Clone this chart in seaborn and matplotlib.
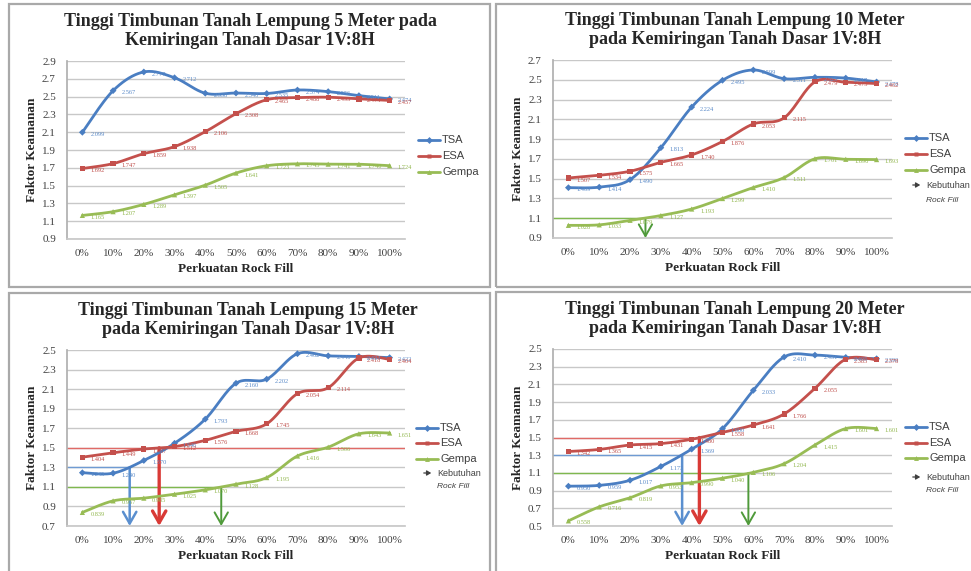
import numpy as np
import pandas as pd
import matplotlib
matplotlib.use("Agg")
import matplotlib.pyplot as plt
import seaborn as sns
from matplotlib.lines import Line2D
from matplotlib.patches import Rectangle, FancyArrowPatch

# ---------------------------------------------------------------- data
perkuatan = [0, 10, 20, 30, 40, 50, 60, 70, 80, 90, 100]
x_labels = ["0%", "10%", "20%", "30%", "40%", "50%", "60%", "70%", "80%", "90%", "100%"]
series_names = ["TSA", "ESA", "Gempa"]

# 5 m embankment
tsa_5 = [2.099, 2.567, 2.777, 2.712, 2.538, 2.540, 2.535, 2.574, 2.556, 2.511, 2.474]
esa_5 = [1.692, 1.747, 1.859, 1.938, 2.106, 2.308, 2.465, 2.488, 2.493, 2.474, 2.457]
gempa_5 = [1.165, 1.207, 1.289, 1.397, 1.505, 1.641, 1.723, 1.745, 1.741, 1.740, 1.724]

# 10 m embankment
tsa_10 = [1.409, 1.414, 1.490, 1.813, 2.224, 2.495, 2.599, 2.511, 2.525, 2.517, 2.478]
esa_10 = [1.507, 1.534, 1.575, 1.665, 1.740, 1.876, 2.053, 2.115, 2.479, 2.475, 2.462]
gempa_10 = [1.028, 1.033, 1.079, 1.127, 1.193, 1.299, 1.410, 1.511, 1.701, 1.696, 1.693]

# 15 m embankment
tsa_15 = [1.245, 1.240, 1.370, 1.546, 1.793, 2.160, 2.202, 2.462, 2.440, 2.434, 2.422]
esa_15 = [1.404, 1.449, 1.487, 1.512, 1.576, 1.668, 1.745, 2.054, 2.114, 2.418, 2.404]
gempa_15 = [0.839, 0.957, 0.985, 1.025, 1.070, 1.128, 1.195, 1.416, 1.506, 1.643, 1.651]

# 20 m embankment
tsa_20 = [0.950, 0.959, 1.017, 1.173, 1.369, 1.600, 2.033, 2.410, 2.431, 2.405, 2.390]
esa_20 = [1.342, 1.365, 1.415, 1.431, 1.480, 1.558, 1.641, 1.766, 2.055, 2.385, 2.378]
gempa_20 = [0.558, 0.716, 0.819, 0.953, 0.990, 1.040, 1.106, 1.204, 1.415, 1.601, 1.601]

# required safety factor and the rock fill percentage where it is reached
syarat_tsa = 1.3
syarat_esa = 1.5
syarat_gempa = 1.1
kebutuhan_10 = {"Gempa": 25.0}
kebutuhan_15 = {"TSA": 15.4, "ESA": 25.0, "Gempa": 45.2}
kebutuhan_20 = {"TSA": 36.9, "ESA": 42.5, "Gempa": 58.4}

titles = [
    "Tinggi Timbunan Tanah Lempung 5 Meter pada\nKemiringan Tanah Dasar 1V:8H",
    "Tinggi Timbunan Tanah Lempung 10 Meter\npada Kemiringan Tanah Dasar 1V:8H",
    "Tinggi Timbunan Tanah Lempung 15 Meter\npada Kemiringan Tanah Dasar 1V:8H",
    "Tinggi Timbunan Tanah Lempung 20 Meter\npada Kemiringan Tanah Dasar 1V:8H",
]

# ---------------------------------------------------------------- style
sns.set_theme(style="white")
plt.rcParams["font.family"] = ["Liberation Serif", "DejaVu Serif"]

W, H = 971, 571
colors = {"TSA": "#4a7ec2", "ESA": "#c4504c", "Gempa": "#98bc55"}
label_colors = {"TSA": "#5b8bc9", "ESA": "#c0504d", "Gempa": "#93b850"}
markers = {"TSA": "D", "ESA": "s", "Gempa": "^"}
marker_sizes = {"TSA": 12, "ESA": 14, "Gempa": 14}
req_line_colors = {"TSA": "#6f9bd3", "ESA": "#e06a66", "Gempa": "#7fb84f"}
arrow_colors = {"TSA": "#5a8fcf", "ESA": "#d93a36", "Gempa": "#4f9a3a"}
arrow_widths = {"TSA": 1.8, "ESA": 2.4, "Gempa": 1.4}
req_values = {"TSA": syarat_tsa, "ESA": syarat_esa, "Gempa": syarat_gempa}
sans = ["Liberation Sans", "DejaVu Sans"]

fig = plt.figure(figsize=(W / 100, H / 100), dpi=100)
fig.patch.set_facecolor("white")


def fig_rect(left, top, right, bottom):
    return [left / W, 1 - bottom / H, (right - left) / W, (bottom - top) / H]


def smooth_curve(xs, ys, n=30):
    """Cubic Bezier smoothing through every point (spreadsheet style)."""
    pts = np.column_stack([xs, ys]).astype(float)
    p = np.vstack([pts[0], pts, pts[-1]])
    t = np.linspace(0, 1, n)[:, None]
    parts = []
    for i in range(1, len(p) - 2):
        p0, p1, p2, p3 = p[i - 1], p[i], p[i + 1], p[i + 2]
        b1 = p1 + (p2 - p0) / 6.0
        b2 = p2 - (p3 - p1) / 6.0
        seg = ((1 - t) ** 3) * p1 + 3 * ((1 - t) ** 2) * t * b1 \
            + 3 * (1 - t) * t ** 2 * b2 + t ** 3 * p2
        parts.append(seg if i == 1 else seg[1:])
    c = np.vstack(parts)
    return c[:, 0], c[:, 1]


panels = [
    dict(data=(tsa_5, esa_5, gempa_5), ylim=(0.9, 2.9), keb=None, full_esa=False,
         box=(9, 4, 490, 287), ax=(67, 61, 405, 239), title_x=250, title_y=31,
         legend=(418, [140, 156, 172])),
    dict(data=(tsa_10, esa_10, gempa_10), ylim=(0.9, 2.7), keb=kebutuhan_10, full_esa=False,
         box=(496, 4, 975, 287), ax=(553, 60, 892, 238), title_x=735, title_y=30,
         legend=(905, [138, 154, 170, 185, 200])),
    dict(data=(tsa_15, esa_15, gempa_15), ylim=(0.7, 2.5), keb=kebutuhan_15, full_esa=True,
         box=(9, 293, 490, 575), ax=(67, 350, 405, 526), title_x=248, title_y=320,
         legend=(416, [428, 443, 459, 473, 487])),
    dict(data=(tsa_20, esa_20, gempa_20), ylim=(0.5, 2.5), keb=kebutuhan_20, full_esa=False,
         box=(496, 292, 975, 575), ax=(553, 349, 892, 526), title_x=735, title_y=319,
         legend=(905, [427, 443, 458, 477, 491])),
]

grid_col = "#c8c8c8"
for k, pnl in enumerate(panels):
    bx0, by0, bx1, by1 = pnl["box"]
    fig.add_artist(Rectangle((bx0 / W, 1 - by1 / H), (bx1 - bx0) / W, (by1 - by0) / H,
                             transform=fig.transFigure, fill=False,
                             edgecolor="#a9a9a9", linewidth=1.6))

    l, t, r, b = pnl["ax"]
    ax = fig.add_axes(fig_rect(l, t, r, b))
    ax.set_facecolor("white")
    y0, y1 = pnl["ylim"]
    yt = np.round(np.arange(y0, y1 + 1e-6, 0.2), 1)

    # requirement lines and arrows
    if pnl["keb"]:
        for name, xk in pnl["keb"].items():
            yv = req_values[name]
            x_end = 105 if (name == "ESA" and pnl["full_esa"]) else xk
            ax.plot([-5, x_end], [yv, yv], color=req_line_colors[name], lw=1.0, zorder=2)
            ax.annotate("", xy=(xk, y0), xytext=(xk, yv),
                        arrowprops=dict(arrowstyle="->,head_length=0.7,head_width=0.4",
                                        color=arrow_colors[name], lw=arrow_widths[name],
                                        shrinkA=0, shrinkB=0),
                        zorder=3)

    frames = []
    for name, vals in zip(series_names, pnl["data"]):
        frames.append(pd.DataFrame({"perkuatan": perkuatan, "fk": vals, "seri": name}))
    df = pd.concat(frames, ignore_index=True)

    for name in series_names:
        d = df[df["seri"] == name]
        sx, sy = smooth_curve(d["perkuatan"].values, d["fk"].values)
        ax.plot(sx, sy, color=colors[name], lw=2.0, zorder=4, solid_capstyle="round")
    sns.scatterplot(data=df, x="perkuatan", y="fk", hue="seri", style="seri",
                    palette=colors, markers=markers, size="seri", sizes=marker_sizes,
                    edgecolor="none", legend=False, ax=ax, zorder=5)
    for name in series_names:
        d = df[df["seri"] == name]
        for xv, yv in zip(d["perkuatan"], d["fk"]):
            ax.annotate(f"{yv:.3f}", (xv, yv), xytext=(6, -1.5), textcoords="offset points",
                        fontsize=4.6, color=label_colors[name], ha="left", va="center",
                        zorder=6)

    ax.set_xlim(-5, 105)
    ax.set_ylim(y0, y1)
    ax.set_yticks(yt)
    ax.set_yticklabels([f"{v:.1f}" for v in yt])
    ax.set_xticks(perkuatan)
    ax.set_xticklabels(x_labels)
    ax.yaxis.grid(True, color=grid_col, linewidth=1.0)
    ax.xaxis.grid(False)
    for s in ["top", "right"]:
        ax.spines[s].set_visible(False)
    ax.spines["left"].set_color("#b0b0b0")
    ax.spines["bottom"].set_color(grid_col)
    ax.tick_params(axis="both", length=0, labelsize=8, colors="#404040")
    ax.tick_params(axis="y", pad=8)
    ax.tick_params(axis="x", pad=7)
    ax.set_xlabel("Perkuatan Rock Fill", fontsize=9.5, fontweight="bold",
                  color="#262626", labelpad=4)
    ax.set_ylabel("Faktor Keamanan", fontsize=9.5, fontweight="bold",
                  color="#262626", labelpad=3)

    # title
    fig.text(pnl["title_x"] / W, 1 - pnl["title_y"] / H, titles[k], ha="center",
             va="center", fontsize=13, fontweight="bold", color="#262626",
             linespacing=1.2)

    # key
    lx, ys = pnl["legend"]
    for name, yy in zip(series_names, ys[:3]):
        fig.add_artist(Line2D([lx / W, (lx + 22) / W], [1 - yy / H, 1 - yy / H],
                              transform=fig.transFigure, color=colors[name], lw=2.0))
        fig.add_artist(Line2D([(lx + 11) / W], [1 - yy / H], transform=fig.transFigure,
                              marker=markers[name], markersize=3.5, color=colors[name],
                              markeredgecolor="none"))
        fig.text((lx + 24) / W, 1 - yy / H, name, ha="left", va="center",
                 fontsize=8, color="#404040", family=sans)
    if len(ys) > 3:
        fig.add_artist(FancyArrowPatch(
            ((lx + 5) / W, 1 - ys[3] / H), ((lx + 18) / W, 1 - ys[3] / H),
            transform=fig.transFigure, arrowstyle="-|>,head_length=2.5,head_width=1.5",
            color="#404040", lw=0.9))
        fig.text((lx + 21) / W, 1 - ys[3] / H, "Kebutuhan", ha="left", va="center",
                 fontsize=6.5, color="#404040", family=sans)
        fig.text((lx + 21) / W, 1 - ys[4] / H, "Rock Fill", ha="left", va="center",
                 fontsize=6, style="italic", color="#404040", family=sans)

fig.savefig("out.png", dpi=100)
